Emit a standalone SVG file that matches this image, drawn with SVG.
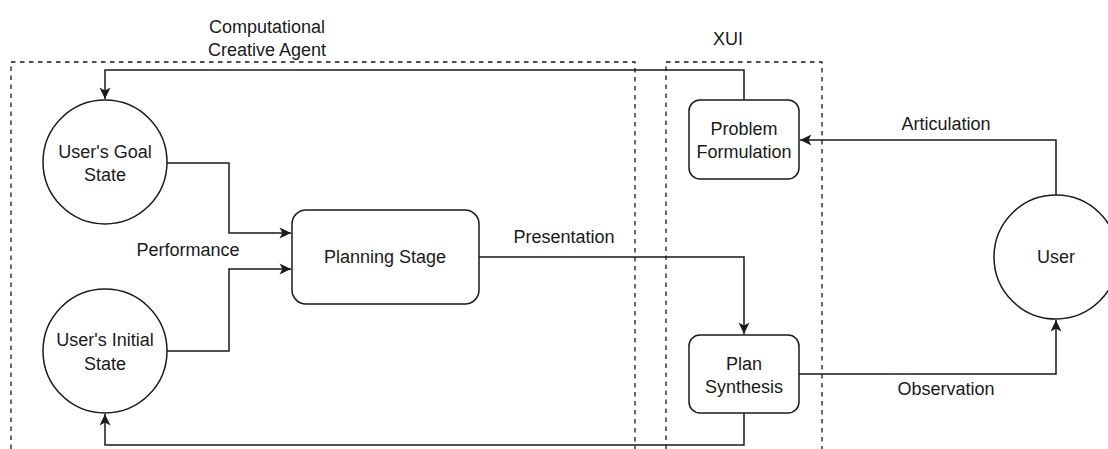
<svg xmlns="http://www.w3.org/2000/svg" width="1108" height="449" viewBox="0 0 1108 449">
<style>
  text { font-family: "Liberation Sans", Arial, sans-serif; font-size: 18px; fill: #1a1a1a; text-anchor: middle; }
  .node { fill: #ffffff; stroke: #1a1a1a; stroke-width: 1.5; }
  .group { fill: none; stroke: #1a1a1a; stroke-width: 1.3; stroke-dasharray: 4.5 4.5; }
  .edge { fill: none; stroke: #1a1a1a; stroke-width: 1.5; marker-end: url(#arrow); }
</style>
<defs>
  <marker id="arrow" markerUnits="userSpaceOnUse" markerWidth="13" markerHeight="12" viewBox="0 0 13 12" refX="12" refY="6" orient="auto">
    <path d="M0.5,0.5 L12,6 L0.5,11.5 L3.5,6 z" fill="#1a1a1a"/>
  </marker>
</defs>

<g id="group-cca">
  <rect class="group" x="11" y="62" width="624" height="420"/>
  <text x="267" y="33">Computational</text>
  <text x="267" y="56">Creative Agent</text>
</g>
<g id="group-xui">
  <rect class="group" x="666" y="62" width="156" height="420"/>
  <text x="728" y="45">XUI</text>
</g>

<g id="connectors">
  <path class="edge" d="M744,100 V70 H105 V99"/>
  <path class="edge" d="M744,413 V445 H105 V414"/>
  <path class="edge" d="M167,163 H229 V233 H291"/>
  <path class="edge" d="M167,351 H229 V269 H291"/>
  <path class="edge" d="M479,257 H744 V334"/>
  <path class="edge" d="M1056,195 V140 H800"/>
  <path class="edge" d="M799,374 H1056 V320"/>
  <text x="188" y="256">Performance</text>
  <text x="564" y="243">Presentation</text>
  <text x="946" y="130">Articulation</text>
  <text x="946" y="395">Observation</text>
</g>

<g id="node-goal">
  <circle class="node" cx="105" cy="162" r="62"/>
  <text x="105" y="158">User's Goal</text>
  <text x="105" y="181">State</text>
</g>
<g id="node-initial">
  <circle class="node" cx="105" cy="351" r="62"/>
  <text x="105" y="346">User's Initial</text>
  <text x="105" y="370">State</text>
</g>
<g id="node-planning">
  <rect class="node" x="292" y="210" width="187" height="94" rx="14"/>
  <text x="385" y="263">Planning Stage</text>
</g>
<g id="node-problem">
  <rect class="node" x="689" y="100" width="110" height="79" rx="11"/>
  <text x="744" y="135">Problem</text>
  <text x="744" y="158">Formulation</text>
</g>
<g id="node-plan">
  <rect class="node" x="689" y="335" width="110" height="78" rx="11"/>
  <text x="744" y="370">Plan</text>
  <text x="744" y="393">Synthesis</text>
</g>
<g id="node-user">
  <circle class="node" cx="1056" cy="257" r="62"/>
  <text x="1056" y="263">User</text>
</g>
</svg>
